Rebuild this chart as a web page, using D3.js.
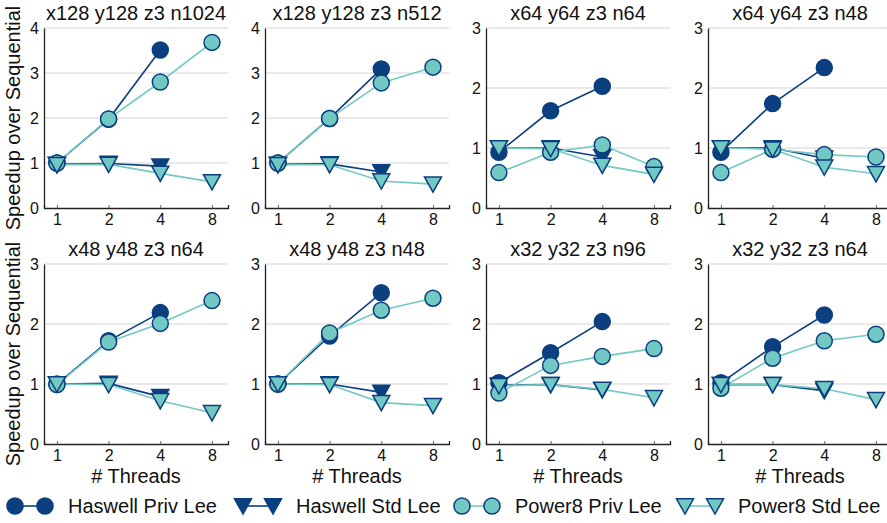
<!DOCTYPE html>
<html>
<head>
<meta charset="utf-8">
<script src="https://cdn.jsdelivr.net/npm/d3@7"></script>
<style>
  body { margin: 0; background: #fff; }
  text { font-family: "Liberation Sans", Arial, Helvetica, sans-serif; fill: #111; }
</style>
</head>
<body>
<div id="chart"></div>
<script>
// thread counts on the x axis
var threads = [1, 2, 4, 8];
var titles = ["x128 y128 z3 n1024", "x128 y128 z3 n512", "x64 y64 z3 n64", "x64 y64 z3 n48",
              "x48 y48 z3 n64", "x48 y48 z3 n48", "x32 y32 z3 n96", "x32 y32 z3 n64"];
var yMax = [4, 4, 3, 3, 3, 3, 3, 3];

// speedups per panel (Haswell only has 1,2,4 threads)
var haswellPriv = [
  [1.0, 1.97, 3.51], [1.0, 1.99, 3.09], [0.93, 1.62, 2.03], [0.93, 1.74, 2.34],
  [1.0, 1.72, 2.19], [1.0, 1.80, 2.52], [1.02, 1.52, 2.04], [1.02, 1.62, 2.15]
];
var haswellStd = [
  [0.97, 0.99, 0.93], [0.97, 0.98, 0.80], [1.0, 1.0, 0.85], [1.0, 1.0, 0.83],
  [1.0, 1.01, 0.79], [1.0, 1.0, 0.86], [0.98, 0.99, 0.90], [0.99, 0.99, 0.89]
];
var power8Priv = [
  [1.0, 1.98, 2.80, 3.68], [1.0, 1.99, 2.78, 3.13], [0.59, 0.93, 1.05, 0.69], [0.59, 0.98, 0.89, 0.85],
  [0.99, 1.70, 2.01, 2.39], [1.0, 1.85, 2.23, 2.43], [0.85, 1.31, 1.46, 1.59], [0.93, 1.43, 1.72, 1.83]
];
var power8Std = [
  [0.96, 0.97, 0.77, 0.58], [0.96, 0.96, 0.60, 0.53], [1.0, 0.99, 0.71, 0.56], [1.0, 0.98, 0.68, 0.57],
  [1.0, 0.99, 0.72, 0.52], [1.0, 0.99, 0.69, 0.64], [0.97, 0.99, 0.91, 0.77], [0.99, 0.99, 0.92, 0.74]
];

var dark = "#0b3f7f", teal = "#72c9c4";
var series = [
  { name: "Haswell Priv Lee", data: haswellPriv, line: dark, fill: dark, shape: "circle" },
  { name: "Haswell Std Lee", data: haswellStd, line: dark, fill: dark, shape: "tri" },
  { name: "Power8 Priv Lee", data: power8Priv, line: teal, fill: teal, shape: "circle" },
  { name: "Power8 Std Lee", data: power8Std, line: teal, fill: teal, shape: "tri" }
];

var W = 887, H = 523;
var lefts = [44, 265, 486, 708], pw = 184;
var tops = [28, 264], ph = 180;

var svg = d3.select("#chart").append("svg")
    .attr("width", W).attr("height", H);

var triPath = function (s) {
  return "M" + (-s) + "," + (-s * 0.85) + "L" + s + "," + (-s * 0.85) + "L0," + (s * 0.95) + "Z";
};

function marker(g, shape, x, y, fill) {
  if (shape == "circle") {
    g.append("circle").attr("cx", x).attr("cy", y).attr("r", 8)
      .attr("fill", fill).attr("stroke", dark).attr("stroke-width", 1.5);
  } else {
    g.append("path").attr("d", triPath(8.5))
      .attr("transform", "translate(" + x + "," + y + ")")
      .attr("fill", fill).attr("stroke", dark).attr("stroke-width", 1.5)
      .attr("stroke-linejoin", "miter");
  }
}

titles.forEach(function (title, i) {
  var row = Math.floor(i / 4), col = i % 4;
  var g = svg.append("g")
      .attr("transform", "translate(" + lefts[col] + "," + tops[row] + ")");

  var x = d3.scaleLog().base(2)
      .domain([Math.pow(2, -0.25), Math.pow(2, 3.31)])
      .range([0, pw]);
  var y = d3.scaleLinear().domain([0, yMax[i]]).range([ph, 0]);

  // gridlines
  g.selectAll(".grid").data(d3.range(1, yMax[i] + 1)).enter()
    .append("line")
    .attr("x1", 0).attr("x2", pw)
    .attr("y1", function (d) { return y(d); })
    .attr("y2", function (d) { return y(d); })
    .attr("stroke", "#d4d4d4").attr("stroke-width", 1);

  // axes
  var xAxis = g.append("g").attr("transform", "translate(0," + ph + ")")
    .call(d3.axisBottom(x).tickValues(threads).tickFormat(d3.format("d")).tickSize(-3).tickPadding(6));
  var yAxis = g.append("g")
    .call(d3.axisLeft(y).ticks(yMax[i]).tickFormat(d3.format("d")).tickSize(0).tickPadding(5));
  [xAxis, yAxis].forEach(function (a) {
    a.select(".domain").attr("stroke", "#222").attr("stroke-width", 1.3);
    a.selectAll(".tick line").attr("stroke", "#666");
    a.selectAll(".tick text").style("font-size", "16px").attr("fill", "#111")
      .style("font-family", "'Liberation Sans', Arial, sans-serif");
  });
  yAxis.selectAll(".tick line").remove();

  g.append("text").attr("x", pw / 2).attr("y", -8)
    .attr("text-anchor", "middle").style("font-size", "20px").text(title);

  if (col == 0) {
    g.append("text")
      .attr("transform", "translate(-24," + (ph / 2) + ") rotate(-90)")
      .attr("text-anchor", "middle").style("font-size", "20px")
      .text("Speedup over Sequential");
  }
  if (row == 1) {
    g.append("text").attr("x", pw / 2).attr("y", ph + 39)
      .attr("text-anchor", "middle").style("font-size", "20px").text("# Threads");
  }

  series.forEach(function (s) {
    var pts = s.data[i].map(function (v, k) { return [x(threads[k]), y(v)]; });
    g.append("path").datum(pts)
      .attr("d", d3.line())
      .attr("fill", "none").attr("stroke", s.line).attr("stroke-width", 1.6);
  });
  series.forEach(function (s) {
    s.data[i].forEach(function (v, k) {
      marker(g, s.shape, x(threads[k]), y(v), s.fill);
    });
  });
});

// legend
var legendX = [15, 243, 462, 685];
var leg = svg.append("g").attr("transform", "translate(0,506)");
series.forEach(function (s, i) {
  var x0 = legendX[i], x1 = x0 + 30;
  leg.append("line").attr("x1", x0).attr("x2", x1).attr("y1", 0).attr("y2", 0)
    .attr("stroke", s.line).attr("stroke-width", 1.6);
  marker(leg, s.shape, x0, 0, s.fill);
  marker(leg, s.shape, x1, 0, s.fill);
  leg.append("text").attr("x", x1 + 23).attr("y", 7)
    .style("font-size", "20px").text(s.name);
});
</script>
</body>
</html>
